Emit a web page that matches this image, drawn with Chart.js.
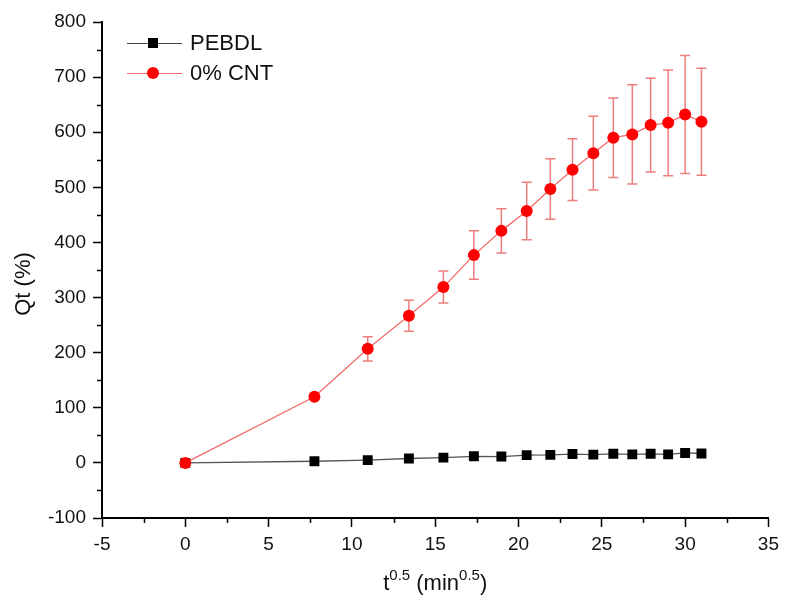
<!DOCTYPE html>
<html>
<head>
<meta charset="utf-8">
<script src="https://cdn.jsdelivr.net/npm/chart.js@4.4.1/dist/chart.umd.min.js"></script>
<style>
  html, body { margin: 0; padding: 0; background: #fff; }
  #wrap { width: 785px; height: 596px; }
</style>
</head>
<body>
<div id="wrap"><canvas id="c" width="785" height="596"></canvas></div>
<script>
// Square-root time (min^0.5) at each sampling point
const sqrtTime = [0, 7.75, 10.95, 13.42, 15.49, 17.32, 18.97, 20.49, 21.91, 23.24, 24.49, 25.69, 26.83, 27.93, 28.98, 30.0, 30.98];
// Swelling Qt (%) for each material
const qtPEBDL = [0, 3, 5, 8, 9.5, 12, 11.5, 14, 14.5, 16, 15, 16.5, 15.5, 16.5, 15.5, 18, 17];
const qtCNT0 = [0, 120, 207, 267, 319, 377, 421, 457, 497, 532, 562, 590, 596, 613, 617, 632, 619];
// Standard deviation of the 0% CNT series
const errCNT0 = [0, 0, 22, 28, 29, 44, 40, 52, 55, 56, 67, 72, 90, 85, 96, 107, 97];
const seriesNames = ['PEBDL', '0% CNT'];
const xTicks = [-5, 0, 5, 10, 15, 20, 25, 30, 35];
const yTicks = [-100, 0, 100, 200, 300, 400, 500, 600, 700, 800];

const FONT = '"Liberation Sans", Arial, sans-serif';
const RED = '#ff0000';
const RED_LINE = '#f26b6b';
const RED_ERR = '#ee7d7d';

const pts = (ys) => sqrtTime.map((x, i) => ({ x: x, y: ys[i] }));

// Error bars behind the markers
const errorBars = {
  id: 'errorBars',
  beforeDatasetsDraw(chart) {
    const { ctx, scales: { x, y } } = chart;
    ctx.save();
    ctx.strokeStyle = RED_ERR;
    ctx.lineWidth = 1.5;
    sqrtTime.forEach((t, i) => {
      const e = errCNT0[i];
      if (!e) return;
      const px = x.getPixelForValue(t);
      const top = y.getPixelForValue(qtCNT0[i] + e);
      const bot = y.getPixelForValue(qtCNT0[i] - e);
      ctx.beginPath();
      ctx.moveTo(px, top); ctx.lineTo(px, bot);
      ctx.moveTo(px - 5, top); ctx.lineTo(px + 5, top);
      ctx.moveTo(px - 5, bot); ctx.lineTo(px + 5, bot);
      ctx.stroke();
    });
    ctx.restore();
  }
};

// Minor ticks, axis titles with superscripts, and the inset legend
const decorations = {
  id: 'decorations',
  afterDraw(chart) {
    const { ctx, scales: { x, y }, chartArea } = chart;
    ctx.save();
    ctx.strokeStyle = '#000';
    ctx.lineWidth = 1.5;
    // minor ticks halfway between the major ones
    for (let i = 0; i < xTicks.length - 1; i++) {
      const px = Math.round(x.getPixelForValue((xTicks[i] + xTicks[i + 1]) / 2)) + 0.5;
      ctx.beginPath();
      ctx.moveTo(px, chartArea.bottom); ctx.lineTo(px, chartArea.bottom + 5);
      ctx.stroke();
    }
    for (let i = 0; i < yTicks.length - 1; i++) {
      const py = Math.round(y.getPixelForValue((yTicks[i] + yTicks[i + 1]) / 2)) + 0.5;
      ctx.beginPath();
      ctx.moveTo(chartArea.left, py); ctx.lineTo(chartArea.left - 5, py);
      ctx.stroke();
    }

    // x-axis title: t^0.5 (min^0.5)
    ctx.fillStyle = '#111';
    ctx.textBaseline = 'alphabetic';
    const parts = [
      ['t', false], ['0.5', true], [' (min', false], ['0.5', true], [')', false]
    ];
    const big = '22px ' + FONT, small = '15px ' + FONT;
    let total = 0;
    parts.forEach(([s, sup]) => { ctx.font = sup ? small : big; total += ctx.measureText(s).width; });
    let cx = (chartArea.left + chartArea.right) / 2 - total / 2;
    const base = 590;
    parts.forEach(([s, sup]) => {
      ctx.font = sup ? small : big;
      ctx.fillText(s, cx, sup ? base - 10 : base);
      cx += ctx.measureText(s).width;
    });

    // y-axis title
    ctx.save();
    ctx.translate(24, (chartArea.top + chartArea.bottom) / 2 + 14);
    ctx.rotate(-Math.PI / 2);
    ctx.font = '22px ' + FONT;
    ctx.textAlign = 'center';
    ctx.textBaseline = 'middle';
    ctx.fillText('Qt (%)', 0, 0);
    ctx.restore();

    // legend
    const rows = [
      { y: 43, line: '#444', fill: '#000', style: 'rect' },
      { y: 73, line: RED_LINE, fill: RED, style: 'circle' }
    ];
    rows.forEach((r, i) => {
      ctx.strokeStyle = r.line;
      ctx.lineWidth = 1.2;
      ctx.beginPath();
      ctx.moveTo(127, r.y + 0.5); ctx.lineTo(182, r.y + 0.5);
      ctx.stroke();
      ctx.fillStyle = r.fill;
      if (r.style === 'rect') {
        ctx.fillRect(148, r.y - 5, 10, 10);
      } else {
        ctx.beginPath();
        ctx.arc(153, r.y, 6, 0, Math.PI * 2);
        ctx.fill();
      }
      ctx.fillStyle = '#111';
      ctx.font = '22px ' + FONT;
      ctx.textAlign = 'left';
      ctx.textBaseline = 'middle';
      ctx.fillText(seriesNames[i], 190, r.y + 1);
    });
    ctx.restore();
  }
};

new Chart(document.getElementById('c'), {
  type: 'scatter',
  data: {
    datasets: [
      {
        label: seriesNames[0],
        data: pts(qtPEBDL),
        showLine: true,
        borderColor: '#555',
        borderWidth: 1.3,
        backgroundColor: '#000',
        pointBackgroundColor: '#000',
        pointBorderColor: '#000',
        pointBorderWidth: 0,
        pointStyle: 'rect',
        pointRadius: 7,
        order: 1
      },
      {
        label: seriesNames[1],
        data: pts(qtCNT0),
        showLine: true,
        borderColor: RED_LINE,
        borderWidth: 1.3,
        backgroundColor: RED,
        pointBackgroundColor: RED,
        pointBorderColor: RED,
        pointBorderWidth: 0,
        pointStyle: 'circle',
        pointRadius: 6,
        order: 0
      }
    ]
  },
  options: {
    responsive: false,
    animation: false,
    devicePixelRatio: 1,
    layout: { padding: { top: 22, right: 11, left: 0, bottom: 0 } },
    plugins: { legend: { display: false }, tooltip: { enabled: false } },
    scales: {
      x: {
        type: 'linear',
        min: -5, max: 35,
        afterBuildTicks: (s) => { s.ticks = xTicks.map(v => ({ value: v })); },
        afterFit: (s) => { s.height = 78; },
        grid: { drawOnChartArea: false, drawTicks: true, tickLength: 9, tickColor: '#000', tickWidth: 1.5 },
        border: { display: true, color: '#000', width: 2 },
        ticks: { color: '#111', font: { family: FONT, size: 19 }, padding: 6, maxRotation: 0 }
      },
      y: {
        type: 'linear',
        min: -100, max: 800,
        afterBuildTicks: (s) => { s.ticks = yTicks.map(v => ({ value: v })); },
        afterFit: (s) => { s.width = 102; },
        grid: { drawOnChartArea: false, drawTicks: true, tickLength: 9, tickColor: '#000', tickWidth: 1.5 },
        border: { display: true, color: '#000', width: 2 },
        ticks: { color: '#111', font: { family: FONT, size: 19 }, padding: 7 }
      }
    }
  },
  plugins: [errorBars, decorations]
});
</script>
</body>
</html>
